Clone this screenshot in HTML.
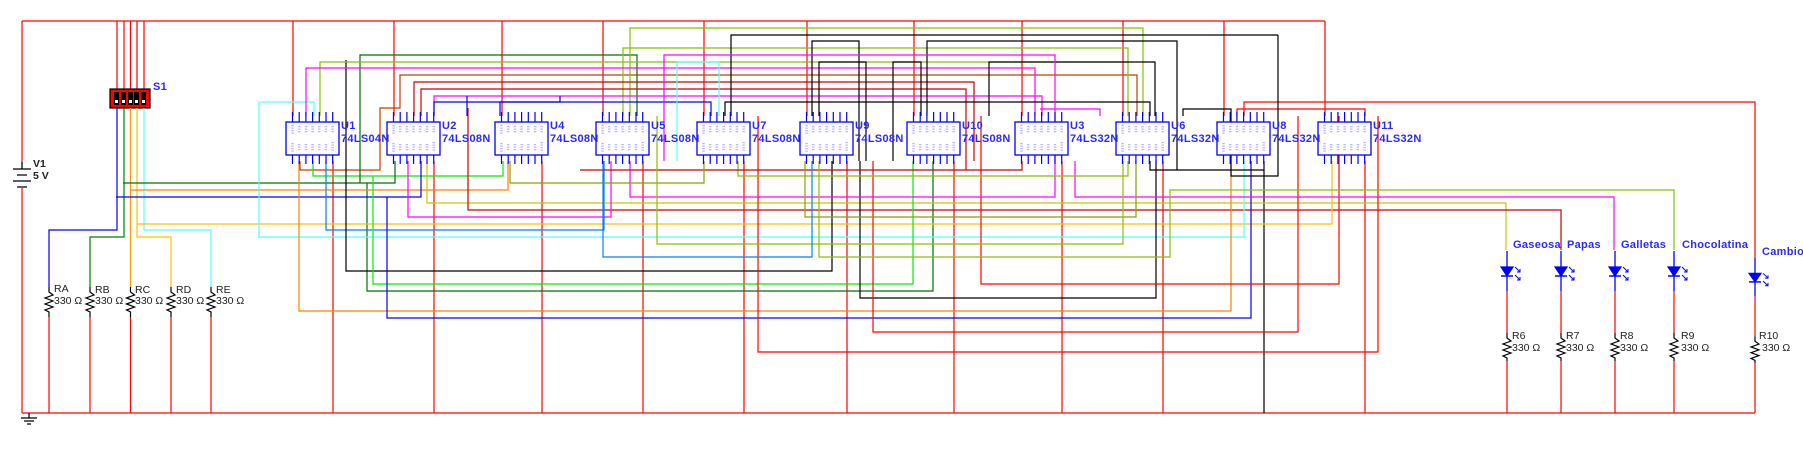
<!DOCTYPE html>
<html><head><meta charset="utf-8"><style>
html,body{margin:0;padding:0;background:#fff;}
svg{display:block;}
text{font-family:"Liberation Sans",sans-serif;}
.lb{fill:#2a2aff;font-weight:bold;font-size:11px;letter-spacing:0.3px;}
.rl{fill:#222;font-size:10.5px;}
</style></head><body>
<svg width="1803" height="450" viewBox="0 0 1803 450" xmlns="http://www.w3.org/2000/svg" fill="none" stroke-width="1.2">
<path d="M22 21H1325M22 21V162M22 188V413M22 413H1755" stroke="#ff0000"/>
<g stroke="#000" stroke-width="1.3"><path d="M22 162V169M13 169H31M17 175H27M13 181H31M17 187H27"/></g>
<text x="33" y="167" class="rl" font-weight="bold">V1</text>
<text x="33" y="179" class="rl" font-weight="bold">5 V</text>
<path d="M29 413V418M21 418H37M24 421H34M27 424H31" stroke="#000"/>
<path d="M117 21V89M124 21V89M130.5 21V89M137 21V89M144 21V89" stroke="#ff0000"/>
<rect x="110" y="89" width="40" height="19" fill="#ff0000" stroke="#000"/>
<g fill="#000" stroke="none"><rect x="114" y="92" width="5" height="13"/><rect x="121" y="92" width="5" height="13"/><rect x="128" y="92" width="5" height="13"/><rect x="134" y="92" width="5" height="13"/><rect x="141" y="92" width="5" height="13"/></g>
<g fill="#fff" stroke="none"><rect x="115" y="100" width="3" height="3"/><rect x="122" y="100" width="3" height="3"/><rect x="129" y="100" width="3" height="3"/><rect x="135" y="100" width="3" height="3"/><rect x="142" y="100" width="3" height="3"/></g>
<text x="153" y="90" class="lb">S1</text>
<path d="M117 108V230H49V287" stroke="#0000ff"/>
<path d="M124 108V237H90V287" stroke="#008000"/>
<path d="M130.5 108V287" stroke="#ff9900"/>
<path d="M137 108V237H171V287" stroke="#ffc000"/>
<path d="M144 108V230H211V287" stroke="#55ffff"/>
<g stroke="#000"><path d="M49 287V292l4 3-8 3 8 3-8 3 8 3-8 3 4 2V317"/><path d="M90 287V292l4 3-8 3 8 3-8 3 8 3-8 3 4 2V317"/><path d="M130.5 287V292l4 3-8 3 8 3-8 3 8 3-8 3 4 2V317"/><path d="M171 287V292l4 3-8 3 8 3-8 3 8 3-8 3 4 2V317"/><path d="M211 287V292l4 3-8 3 8 3-8 3 8 3-8 3 4 2V317"/></g>
<path d="M49 317V413M90 317V413M130.5 317V413M171 317V413M211 317V413" stroke="#ff0000"/>
<text x="54" y="292" class="rl">RA</text><text x="54" y="304" class="rl">330 Ω</text>
<text x="95" y="293" class="rl">RB</text><text x="95" y="304" class="rl">330 Ω</text>
<text x="135" y="293" class="rl">RC</text><text x="135" y="304" class="rl">330 Ω</text>
<text x="176" y="293" class="rl">RD</text><text x="176" y="304" class="rl">330 Ω</text>
<text x="216" y="293" class="rl">RE</text><text x="216" y="304" class="rl">330 Ω</text>

<path d="M293 21V116M394 21V116M502 21V116M603 21V116M704 21V116M807 21V116M914 21V116M1022 21V116M1123 21V116M1224 21V116M1325 21V116" stroke="#ff0000"/>
<path d="M333 161V413M434 161V413M542 161V413M643 161V413M744 161V413M847 161V413M954 161V413M1062 161V413M1163 161V413M1365 161V413" stroke="#ff0000"/>
<path d="M1264 161V413" stroke="#000"/>

<path d="M300 161V170H380V108H400V75H1137V116" stroke="#c04000"/>
<path d="M313 161V176H503V161" stroke="#00ee00"/>
<path d="M123 183H395V161M367 183V291H933V161" stroke="#007000"/>
<path d="M130.5 190H508V161" stroke="#ff8000"/>
<path d="M116 197H421V161" stroke="#0000ff"/>
<path d="M427 161V203H1506V250" stroke="#c8c800"/>
<path d="M468 116V108H468V210H1561V250" stroke="#cc0000"/>
<path d="M408 161V217H611V161" stroke="#ff00ff"/>
<path d="M137 224H1332V161" stroke="#ffc000"/>
<path d="M326 161V230H604V161" stroke="#0080ff"/>
<path d="M259 102V237H1244V161M259 102H314V116" stroke="#55ffff"/>
<path d="M346 60V271H832V161" stroke="#000"/>
<path d="M373 176V284H913V161" stroke="#00ee00"/>
<path d="M860 161V298H1156V161" stroke="#000"/>
<path d="M299 161V311H1231V161" stroke="#ff8000"/>
<path d="M387 197V318H1251V161" stroke="#0000ff"/>
<path d="M873 161V332H1298V116" stroke="#ff0000"/>
<path d="M758 116V352H1378V116" stroke="#ff0000"/>
<path d="M981 116V284H1339V116" stroke="#ff0000"/>
<path d="M1075 161V197H1614V250M630 161V197H1055V116" stroke="#ff00ff"/>
<path d="M738 161V176H1128V161" stroke="#88c000"/>
<path d="M580 170H1022V161" stroke="#cc0000"/>
<path d="M510 161V183H704V161" stroke="#88a000"/>
<path d="M805 161V217H1136V161" stroke="#88a000"/>
<path d="M657 116V244H1123V161" stroke="#88c000"/>
<path d="M603 161V257H812V161" stroke="#0080ff"/>
<path d="M819 161V257H1170V190H1674V250" stroke="#88c000"/>
<path d="M1244 116V102H1755V258" stroke="#ff0000"/>
<path d="M1237 116V109H1365V116" stroke="#ff0000"/>
<path d="M1278 35V176H1231V161" stroke="#000"/>
<path d="M1150 161V170H1264" stroke="#000"/>

<path d="M360 183V55H637V116" stroke="#007000"/>
<path d="M320 116V62H1128V48M623 116V48H1128V116" stroke="#88c000"/>
<path d="M630 116V28H1143V116" stroke="#88c000"/>
<path d="M306 116V68H1035V116" stroke="#ff00ff"/>
<path d="M414 116V82H974V161" stroke="#cc0000"/>
<path d="M421 116V89H966V170" stroke="#cc0000"/>
<path d="M434 116V96H1042V116" stroke="#ff00ff"/>
<path d="M434 116V102H711V116M467 116V96" stroke="#0000ff"/>
<path d="M725 116V102H1150V116" stroke="#000"/>
<path d="M731 116V35H1278" stroke="#000"/>
<path d="M812 116V41H859V161" stroke="#000"/>
<path d="M927 116V41H1177V170" stroke="#000"/>
<path d="M819 116V62H866V161M893 161V62H921V116M989 116V62H1155V116" stroke="#000"/>
<path d="M1183 116V109H1231V161" stroke="#000"/>
<path d="M664 161V55H1055V116" stroke="#ff00ff"/>
<path d="M677 161V62H719V116" stroke="#55ffff"/>
<path d="M1100 116V109H1040" stroke="#ff00ff"/>
<path d="M500 116V102H560V96" stroke="#0000ff"/>

<defs>
<g id="chip">
<rect x="0" y="122" width="53" height="33" fill="#fff" stroke="#0000ff" stroke-width="1.3"/>
<path d="M6.5 112V122M13.2 112V122M19.9 112V122M26.6 112V122M33.3 112V122M40 112V122M46.7 112V122M6.5 155V164M13.2 155V164M19.9 155V164M26.6 155V164M33.3 155V164M40 155V164M46.7 155V164" stroke="#0000ff" stroke-width="1.2"/>
<path d="M6.5 125V134M13.2 126V133M19.9 126V133M26.6 126V133M33.3 126V133M40 126V133M46.7 126V133M6.5 143V152M13.2 144V151M19.9 144V151M26.6 144V151M33.3 144V151M40 144V151M46.7 142V152" stroke="#b8b8ff" stroke-width="2.5" stroke-dasharray="1.2 1.3"/>
</g>
</defs>
<use href="#chip" x="286"/><use href="#chip" x="387"/><use href="#chip" x="495"/><use href="#chip" x="596"/><use href="#chip" x="697"/><use href="#chip" x="800"/><use href="#chip" x="907"/><use href="#chip" x="1015"/><use href="#chip" x="1116"/><use href="#chip" x="1217"/><use href="#chip" x="1318"/>
<text x="341" y="129" class="lb">U1</text><text x="341" y="142" class="lb">74LS04N</text>
<text x="442" y="129" class="lb">U2</text><text x="442" y="142" class="lb">74LS08N</text>
<text x="550" y="129" class="lb">U4</text><text x="550" y="142" class="lb">74LS08N</text>
<text x="651" y="129" class="lb">U5</text><text x="651" y="142" class="lb">74LS08N</text>
<text x="752" y="129" class="lb">U7</text><text x="752" y="142" class="lb">74LS08N</text>
<text x="855" y="129" class="lb">U9</text><text x="855" y="142" class="lb">74LS08N</text>
<text x="962" y="129" class="lb">U10</text><text x="962" y="142" class="lb">74LS08N</text>
<text x="1070" y="129" class="lb">U3</text><text x="1070" y="142" class="lb">74LS32N</text>
<text x="1171" y="129" class="lb">U6</text><text x="1171" y="142" class="lb">74LS32N</text>
<text x="1272" y="129" class="lb">U8</text><text x="1272" y="142" class="lb">74LS32N</text>
<text x="1373" y="129" class="lb">U11</text><text x="1373" y="142" class="lb">74LS32N</text>

<defs>
<g id="led">
<path d="M0 0V40" stroke="#0000ff" stroke-width="1.3"/>
<path d="M-6 16H6L0 25Z" fill="#0000ff" stroke="#0000ff"/>
<path d="M-6 25H6" stroke="#0000ff" stroke-width="1.5"/>
<path d="M8 16L13 21M10 21H13V18M8 24L13 29M10 29H13V26" stroke="#0000ff" stroke-width="1"/>
<path d="M0 40V82" stroke="#ff0000"/>
<path d="M0 82V87l4 3-8 3 8 3-8 3 8 3-8 3 4 2V110" stroke="#000"/>
<path d="M0 110V162" stroke="#ff0000"/>
</g>
</defs>
<use href="#led" x="1507" y="251"/><use href="#led" x="1561" y="251"/><use href="#led" x="1615" y="251"/><use href="#led" x="1674" y="251"/>
<g transform="translate(1755,258) scale(1,0.9565)"><use href="#led"/></g>
<text x="1513" y="248" class="lb">Gaseosa</text>
<text x="1567" y="248" class="lb">Papas</text>
<text x="1621" y="248" class="lb">Galletas</text>
<text x="1682" y="248" class="lb">Chocolatina</text>
<text x="1762" y="255" class="lb">Cambio</text>
<text x="1512" y="339" class="rl">R6</text><text x="1512" y="351" class="rl">330 Ω</text>
<text x="1566" y="339" class="rl">R7</text><text x="1566" y="351" class="rl">330 Ω</text>
<text x="1620" y="339" class="rl">R8</text><text x="1620" y="351" class="rl">330 Ω</text>
<text x="1681" y="339" class="rl">R9</text><text x="1681" y="351" class="rl">330 Ω</text>
<text x="1759" y="339" class="rl">R10</text><text x="1762" y="351" class="rl">330 Ω</text>
</svg>
</body></html>
